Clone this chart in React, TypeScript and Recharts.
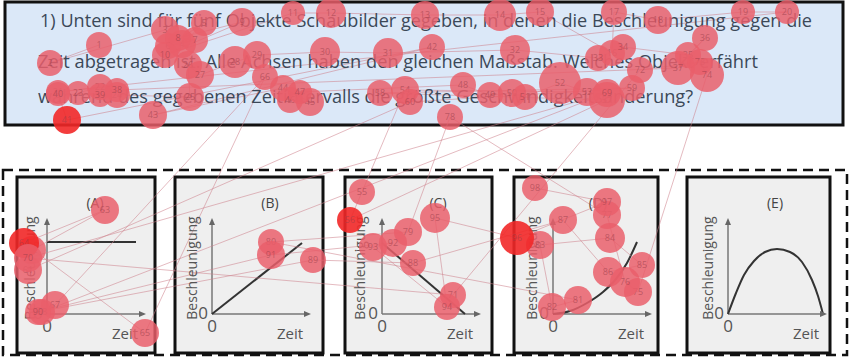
import React from 'react';
import { ComposedChart, XAxis, YAxis, Scatter, Line, ReferenceArea } from 'recharts';

// ---------- question text ----------
const questionLines = [
  '1) Unten sind für fünf Objekte Schaubilder gegeben, in denen die Beschleunigung gegen die',
  'Zeit abgetragen ist. Alle Achsen haben den gleichen Maßstab. Welches Objekt erfährt',
  'während des gegebenen Zeitintervalls die größte Geschwindigkeitsänderung?',
];
const questionX = [40, 38, 38];
const questionY = [27, 68, 103];
const questionW = [772, 720, 655];

// ---------- panels ----------
const panelNames = ['(A)', '(B)', '(C)', '(D)', '(E)'];
const panelLeft = [17, 175, 345, 514, 687];
const panelRight = [155, 323, 492, 658, 830];
const originX = [47, 212, 382, 553, 728];
const titleX = [95, 270, 438, 598, 775];
const yLabelX = [30, 192, 360, 532, 708];

// mini graph curves
const curveA = [{ x: 47, y: 242 }, { x: 136, y: 242 }];
const curveB = [{ x: 212, y: 314 }, { x: 302, y: 243 }];
const curveC = [{ x: 382, y: 243 }, { x: 465, y: 314 }];
const curveD = [
  { x: 553, y: 314 }, { x: 570, y: 311 }, { x: 587, y: 303 }, { x: 603, y: 292 },
  { x: 616, y: 279 }, { x: 627, y: 263 }, { x: 637, y: 242 },
];
const curveE = [
  { x: 728, y: 314 }, { x: 736, y: 293 }, { x: 744, y: 275 }, { x: 754, y: 261 },
  { x: 765, y: 252 }, { x: 777, y: 249 }, { x: 790, y: 252 }, { x: 802, y: 262 },
  { x: 812, y: 280 }, { x: 818, y: 296 }, { x: 823, y: 314 },
];

// ---------- fixations (scanpath) ----------
const fixX = [
  99, 50, 165, 182, 204, 168, 195, 178, 242, 165,
  293, 331, 425, 500, 540, 612, 614, 658, 743, 787,
  58, 100, 78, 117, 190, 188, 200, 235, 257, 325,
  388, 515, 598, 623, 688, 705, 678, 117, 100, 58,
  67, 432, 153, 283, 310, 290, 300, 463, 490, 512,
  525, 560, 587, 405, 362, 350, 607, 380, 632, 410,
  28, 32, 105, 24, 145, 265, 55, 42, 607, 28,
  453, 640, 700, 707, 638, 625, 607, 450, 408, 271,
  578, 552, 540, 610, 642, 608, 563, 413, 313, 38,
  271, 393, 373, 447, 435, 517, 607, 535,
];
const fixY = [
  45, 63, 30, 44, 23, 46, 40, 38, 22, 55,
  13, 13, 15, 15, 12, 53, 12, 20, 12, 12,
  92, 87, 93, 95, 97, 65, 75, 62, 55, 52,
  53, 50, 58, 47, 55, 38, 68, 90, 95, 94,
  120, 47, 115, 88, 102, 100, 92, 85, 95, 93,
  97, 83, 92, 90, 192, 220, 100, 93, 88, 102,
  270, 250, 210, 243, 333, 77, 305, 312, 93, 258,
  295, 70, 62, 75, 292, 282, 215, 117, 232, 242,
  300, 307, 245, 238, 265, 272, 220, 263, 260, 312,
  255, 243, 247, 307, 218, 238, 202, 188,
];
const fixDur = [
  13, 13, 14, 14, 13, 13, 13, 13, 14, 13,
  12, 15, 14, 16, 14, 13, 13, 14, 12, 12,
  12, 13, 12, 13, 14, 14, 14, 16, 14, 15,
  15, 15, 13, 13, 13, 13, 17, 12, 12, 12,
  14, 13, 14, 13, 14, 13, 12, 13, 13, 14,
  13, 21, 14, 14, 13, 13, 18, 13, 13, 13,
  14, 14, 14, 15, 14, 13, 14, 13, 14, 14,
  13, 13, 13, 17, 14, 15, 14, 13, 14, 13,
  14, 14, 14, 15, 13, 15, 14, 13, 13, 13,
  14, 14, 14, 13, 15, 17, 14, 13,
];
const hotFixations = [41, 56, 64, 96];

const fixations = fixX.map((x, i) => ({
  id: i + 1,
  x,
  y: fixY[i],
  dur: fixDur[i],
  hot: hotFixations.includes(i + 1),
}));

const FONT = "'Open Sans', 'DejaVu Sans', sans-serif";

// ---------- text data ----------
const questionData = questionLines.map((t, i) => ({ x: questionX[i], y: questionY[i], text: t, w: questionW[i] }));
const titleData = panelNames.map((t, i) => ({ x: titleX[i], y: 203, text: t }));
const yLabelData = originX.map((_, i) => ({ x: yLabelX[i], y: 268, text: 'Beschleunigung' }));
const zeroYData = originX.map((o) => ({ x: o - 9, y: 313, text: '0' }));
const zeroXData = originX.map((o) => ({ x: o, y: 326, text: '0' }));
const zeitData = originX.map((o) => ({ x: o + 78, y: 334, text: 'Zeit' }));

const yAxisData = originX.map((o) => [{ x: o, y: 314 }, { x: o, y: 222 }]);
const xAxisData = originX.map((o) => [{ x: o, y: 314 }, { x: o + 95, y: 314 }]);
const upArrows = originX.map((o) => ({ x: o, y: 222, dir: 'up' }));
const rightArrows = originX.map((o) => ({ x: o + 95, y: 314, dir: 'right' }));

const QuestionShape = (p: any) => (
  <text
    x={p.cx}
    y={p.cy}
    fontFamily={FONT}
    fontSize={18}
    fill="#3b4858"
    textLength={p.payload.w}
    lengthAdjust="spacingAndGlyphs"
  >
    {p.payload.text}
  </text>
);

const makeText = (size: number, color: string, rotate = false) => (p: any) => (
  <text
    x={p.cx}
    y={p.cy}
    dy="0.35em"
    textAnchor="middle"
    fontFamily={FONT}
    fontSize={size}
    fill={color}
    transform={rotate ? `rotate(-90 ${p.cx} ${p.cy})` : undefined}
  >
    {p.payload.text}
  </text>
);

const ArrowShape = (p: any) => {
  const { cx, cy, payload } = p;
  const d =
    payload.dir === 'up'
      ? `M${cx},${cy - 4} L${cx - 3},${cy + 3} L${cx + 3},${cy + 3} Z`
      : `M${cx + 4},${cy} L${cx - 3},${cy - 3} L${cx - 3},${cy + 3} Z`;
  return <path d={d} fill="#666" />;
};

const FixShape = (p: any) => {
  const { cx, cy, payload } = p;
  return (
    <g>
      <circle
        cx={cx}
        cy={cy}
        r={payload.dur}
        fill={payload.hot ? 'rgba(242,40,40,0.9)' : 'rgba(234,94,106,0.84)'}
      />
      <text
        x={cx}
        y={cy}
        dy="0.35em"
        textAnchor="middle"
        fontFamily={FONT}
        fontSize={9}
        fill="rgba(150,60,72,0.55)"
      >
        {payload.id}
      </text>
    </g>
  );
};

export default function App() {
  return (
    <div style={{ position: 'absolute', left: 0, top: 0, width: 850, height: 359, background: '#ffffff' }}>
      <ComposedChart width={850} height={359} margin={{ top: 0, right: 0, bottom: 0, left: 0 }}>
        <XAxis type="number" dataKey="x" domain={[0, 850]} hide allowDataOverflow />
        <YAxis type="number" dataKey="y" domain={[0, 359]} reversed hide allowDataOverflow />

        <ReferenceArea x1={5} x2={843} y1={2} y2={125} fill="#dbe8f8" fillOpacity={1} stroke="#111" strokeWidth={3} />
        <ReferenceArea
          x1={3}
          x2={847}
          y1={170}
          y2={355}
          fill="none"
          fillOpacity={0}
          stroke="#111"
          strokeWidth={2.5}
          strokeDasharray="10 6"
        />
        {panelLeft.map((l, i) => (
          <ReferenceArea
            key={'p' + i}
            x1={l}
            x2={panelRight[i]}
            y1={177}
            y2={353}
            fill="#efefef"
            fillOpacity={1}
            stroke="#111"
            strokeWidth={3}
          />
        ))}

        {yAxisData.map((d, i) => (
          <Line key={'ya' + i} data={d} dataKey="y" stroke="#777" strokeWidth={1.5} dot={false} activeDot={false} isAnimationActive={false} />
        ))}
        {xAxisData.map((d, i) => (
          <Line key={'xa' + i} data={d} dataKey="y" stroke="#777" strokeWidth={1.5} dot={false} activeDot={false} isAnimationActive={false} />
        ))}
        <Scatter data={upArrows} shape={ArrowShape} activeShape={ArrowShape} isAnimationActive={false} />
        <Scatter data={rightArrows} shape={ArrowShape} activeShape={ArrowShape} isAnimationActive={false} />

        {[curveA, curveB, curveC, curveD, curveE].map((c, i) => (
          <Line
            key={'c' + i}
            data={c}
            dataKey="y"
            type="monotone"
            stroke="#333"
            strokeWidth={2}
            dot={false}
            activeDot={false}
            isAnimationActive={false}
          />
        ))}

        <Scatter data={questionData} shape={QuestionShape} activeShape={QuestionShape} isAnimationActive={false} />
        <Scatter data={titleData} shape={makeText(14, '#444')} isAnimationActive={false} />
        <Scatter data={yLabelData} shape={makeText(14, '#555', true)} isAnimationActive={false} />
        <Scatter data={zeroYData} shape={makeText(17, '#555')} isAnimationActive={false} />
        <Scatter data={zeroXData} shape={makeText(17, '#555')} isAnimationActive={false} />
        <Scatter data={zeitData} shape={makeText(15, '#555')} isAnimationActive={false} />

        <Line
          data={fixations}
          dataKey="y"
          stroke="rgba(205,130,140,0.55)"
          strokeWidth={1}
          dot={false}
          activeDot={false}
          isAnimationActive={false}
        />
        <Scatter data={fixations} shape={FixShape} activeShape={FixShape} isAnimationActive={false} />
      </ComposedChart>
    </div>
  );
}
